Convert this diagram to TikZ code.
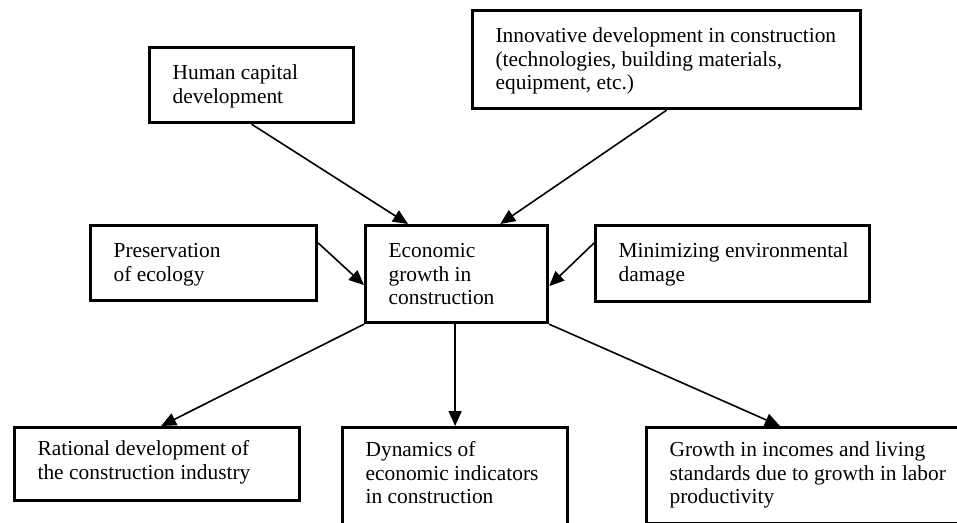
\documentclass[tikz,border=0pt]{standalone}
\usepackage{fontspec}
\setmainfont{Liberation Serif}
\usetikzlibrary{arrows.meta,calc}
\newcommand{\bxt}[2]{\makebox[#1pt][l]{\begin{tabular}[t]{@{}l@{}}#2\end{tabular}}}
\begin{document}
\begin{tikzpicture}[x=1pt,y=-1pt,
  box/.style={draw, line width=3.2pt, anchor=north west, inner xsep=23pt, inner ysep=0pt,
    text height=32pt, font=\fontsize{21.4pt}{23.5pt}\selectfont},
  arr/.style={line width=1.6pt, -{Triangle[length=15pt,width=13pt]}}]
\useasboundingbox (0,0) rectangle (957,522);
\clip (0,0) rectangle (957,522);
\fill[white] (0,0) rectangle (957,522);
\node[box, text depth=43pt] (hc) at (148,46) {\bxt{158}{Human capital\\development}};
\node[box, text depth=66pt] (inn) at (471,9) {\bxt{342}{Innovative development in construction\\(technologies, building materials,\\equipment, etc.)}};
\node[box, text depth=43pt] (pres) at (89,224) {\bxt{180}{Preservation\\of ecology}};
\node[box, text depth=65pt] (eco) at (364,224) {\bxt{136}{Economic\\growth in\\construction}};
\node[box, text depth=44pt] (mini) at (594,224) {\bxt{228}{Minimizing environmental\\damage}};
\node[box, text height=28pt, text depth=45pt] (rat) at (13,426) {\bxt{239}{Rational development of\\the construction industry}};
\node[box, text height=29pt, text depth=81pt] (dyn) at (341,426) {\bxt{179}{Dynamics of\\economic indicators\\in construction}};
\node[box, text height=29pt, text depth=67pt] (gro) at (645,426) {\bxt{294}{Growth in incomes and living\\standards due to growth in labor\\productivity}};
\draw[arr] (hc.south) -- ($(eco.north west)+(44,0)$);
\draw[arr] (inn.south) -- ($(eco.north east)+(-49,0)$);
\draw[arr] ($(pres.north east)+(0,19)$) -- ($(eco.west)+(0,11)$);
\draw[arr] ($(mini.north west)+(0,19)$) -- ($(eco.east)+(0,12)$);
\draw[arr] (eco.south west) -- ($(rat.north)+(4,0)$);
\draw[arr] (eco.south -| dyn.north) -- (dyn.north);
\draw[arr] (eco.south east) -- ($(gro.north west)+(135,0)$);
\end{tikzpicture}
\end{document}
